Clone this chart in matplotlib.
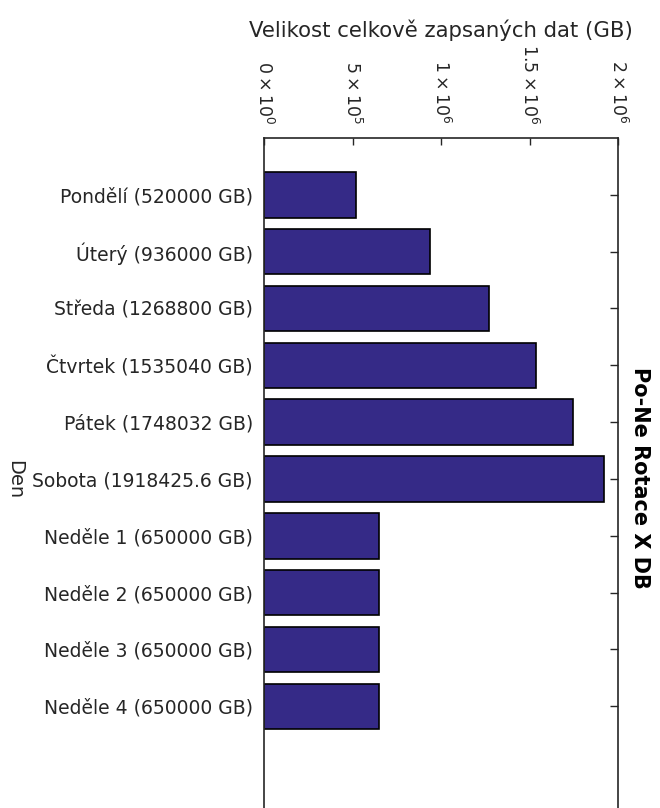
import matplotlib
matplotlib.use('Agg')
import matplotlib.pyplot as plt
from matplotlib.ticker import FixedLocator, FixedFormatter

plt.rcParams['font.family'] = ['DejaVu Sans']
plt.rcParams['mathtext.fontset'] = 'dejavusans'

days = ['Pondělí', 'Úterý', 'Středa', 'Čtvrtek', 'Pátek', 'Sobota',
        'Neděle 1', 'Neděle 2', 'Neděle 3', 'Neděle 4']
sizes_gb = [520000, 936000, 1268800, 1535040, 1748032, 1918425.6,
            650000, 650000, 650000, 650000]
xticks = [0, 5e5, 1e6, 1.5e6, 2e6]
xtick_labels = [r'$0\times10^{0}$', r'$5\times10^{5}$', r'$1\times10^{6}$',
                r'$1.5\times10^{6}$', r'$2\times10^{6}$']

labels = ['%s (%s GB)' % (d, v) for d, v in zip(days, sizes_gb)]

ink = '#262626'
fig = plt.figure(figsize=(6.6, 8.08), dpi=100)
ax = fig.add_axes([0.4, -0.01485, 0.5364, 0.8441])

pos = list(range(1, len(days) + 1))
ax.barh(pos, sizes_gb, height=0.8, color='#352a87', edgecolor='black', linewidth=1.2)

ax.set_ylim(12, 0)
ax.set_xlim(0, 2e6)

ax.xaxis.set_major_locator(FixedLocator(xticks))
ax.xaxis.set_major_formatter(FixedFormatter(xtick_labels))
ax.xaxis.tick_top()
ax.tick_params(axis='x', direction='in', length=5, width=1, colors=ink,
               labelsize=12.5, pad=10, labelrotation=270)

ax.set_yticks(pos)
ax.set_yticklabels(labels)
ax.tick_params(axis='y', direction='in', length=6, width=1, colors=ink,
               left=False, right=True, labelleft=True, labelsize=13.5, pad=8)

for side in ['top', 'left', 'right']:
    ax.spines[side].set_color(ink)
    ax.spines[side].set_linewidth(1.2)
ax.spines['bottom'].set_visible(False)

fig.text(441 / 660, 1 - 30 / 808, 'Velikost celkově zapsaných dat (GB)',
         ha='center', va='center', fontsize=15.3, color=ink)
fig.text(640 / 660, 1 - 478 / 808, 'Po-Ne Rotace X DB', rotation=270,
         ha='center', va='center', fontsize=15, fontweight='bold', color='black')
fig.text(15 / 660, 1 - 480 / 808, 'Den', rotation=270,
         ha='center', va='center', fontsize=14, color=ink)

fig.savefig('out.png', dpi=100)
